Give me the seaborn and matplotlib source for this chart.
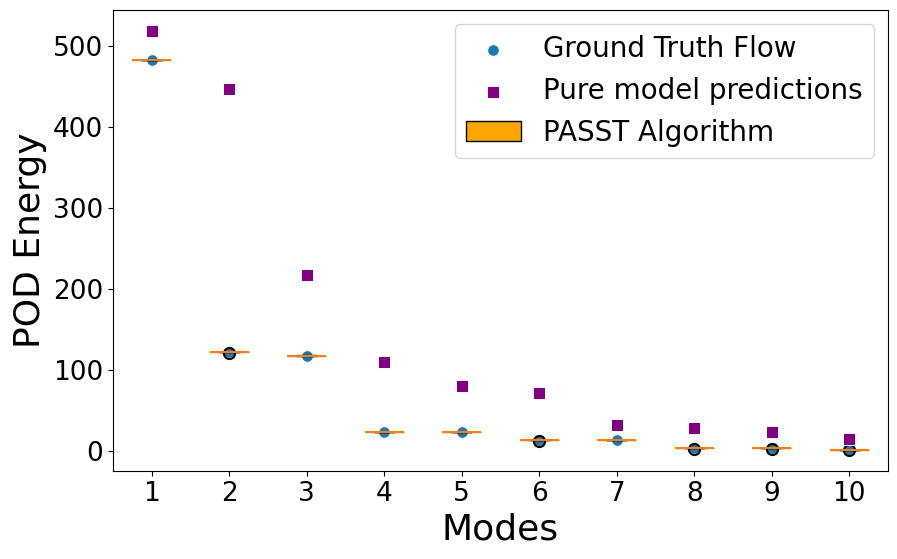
import numpy as np
import pandas as pd
import matplotlib
matplotlib.use("Agg")
import matplotlib.pyplot as plt
from matplotlib.patches import Patch
import seaborn as sns

# POD energy per mode
modes = [1, 2, 3, 4, 5, 6, 7, 8, 9, 10]
ground_truth = [482, 122, 118, 24, 24, 14, 14, 4, 4, 2]
pure_model = [518, 446, 217, 110, 81, 72, 33, 29, 24, 15]

# PASST samples per mode (very small spread around the ground truth)
passt_1 = [481.7, 481.9, 482.0, 482.1, 482.3]
passt_2 = [121.9, 122.0, 122.0, 122.1, 122.2, 121.3]
passt_3 = [117.7, 117.9, 118.0, 118.1, 118.3]
passt_4 = [23.7, 23.9, 24.0, 24.1, 24.3]
passt_5 = [23.7, 23.9, 24.0, 24.1, 24.3]
passt_6 = [13.9, 14.0, 14.0, 14.1, 14.2, 13.3]
passt_7 = [13.7, 13.9, 14.0, 14.1, 14.3]
passt_8 = [3.9, 4.0, 4.0, 4.1, 4.2, 3.3]
passt_9 = [3.9, 4.0, 4.0, 4.1, 4.2, 3.3]
passt_10 = [1.9, 2.0, 2.0, 2.1, 2.2, 1.3]
passt = [passt_1, passt_2, passt_3, passt_4, passt_5,
         passt_6, passt_7, passt_8, passt_9, passt_10]

rows = []
for m, vals in zip(modes, passt):
    for v in vals:
        rows.append({"mode": m, "energy": v})
df_box = pd.DataFrame(rows)

fig, ax = plt.subplots(figsize=(8.97, 5.59), dpi=100)
fig.subplots_adjust(left=0.126, right=0.99, top=0.982, bottom=0.157)

sns.scatterplot(x=modes, y=ground_truth, color="tab:blue", s=70, marker="o",
                label="Ground Truth Flow", ax=ax, zorder=1)

sns.boxplot(data=df_box, x="mode", y="energy", native_scale=True, width=0.5,
            color="orange", linecolor="black", linewidth=1,
            boxprops={"alpha": 0.5},
            medianprops={"color": "tab:orange", "linewidth": 1.5},
            flierprops={"marker": "o", "markersize": 8, "markerfacecolor": "none",
                        "markeredgecolor": "black", "markeredgewidth": 1.5},
            ax=ax)

sns.scatterplot(x=modes, y=pure_model, color="purple", s=70, marker="s",
                label="Pure model predictions", ax=ax, zorder=3)

handles, labels = ax.get_legend_handles_labels()
handles.append(Patch(facecolor="orange", edgecolor="black", label="PASST Algorithm"))
labels.append("PASST Algorithm")
ax.legend(handles=handles, labels=labels, loc="upper right", fontsize=20)

ax.set_xlim(0.5, 10.5)
ax.set_xticks(modes)
ax.set_xticklabels([str(m) for m in modes])
ax.tick_params(labelsize=19)
ax.set_xlabel("Modes", fontsize=26)
ax.set_ylabel("POD Energy", fontsize=26)

plt.savefig("out.png")
